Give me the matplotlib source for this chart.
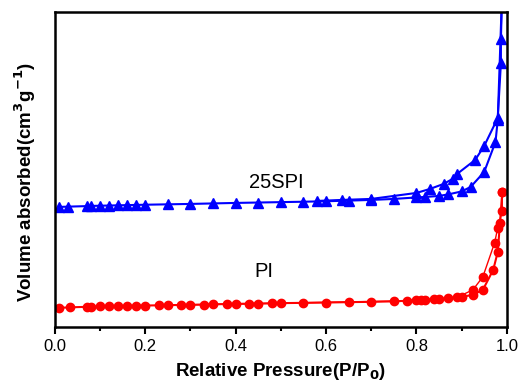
import matplotlib
matplotlib.use('Agg')
import matplotlib.pyplot as plt
from matplotlib.ticker import MultipleLocator

plt.rcParams['font.family'] = ['Liberation Sans', 'DejaVu Sans']

# 25SPI isotherm (blue), adsorption + desorption
spi_ads_x = [0.01, 0.03, 0.07, 0.08, 0.10, 0.12, 0.14, 0.16, 0.18, 0.20, 0.25, 0.30, 0.35, 0.40,
             0.45, 0.50, 0.55, 0.60, 0.65, 0.70, 0.75, 0.80, 0.82, 0.85, 0.87, 0.90, 0.92, 0.95,
             0.975, 0.98, 0.99]
spi_ads_y = [120, 120.3, 120.8, 121, 121.2, 121.4, 121.6, 121.8, 122, 122.2, 122.6, 123, 123.5, 124,
             124.4, 124.8, 125.2, 125.7, 126.3, 127, 128, 129.5, 130, 131, 132.5, 135.5, 140, 155,
             185, 207, 340]
spi_des_x = [0.99, 0.987, 0.987, 0.98, 0.95, 0.93, 0.89, 0.88, 0.86, 0.83, 0.80, 0.70, 0.635, 0.58]
spi_des_y = [340, 288, 264, 209, 181, 167, 153, 148, 143, 138, 134, 128, 127, 126]

# PI isotherm (red)
pi_ads_x = [0.01, 0.033, 0.07, 0.08, 0.10, 0.12, 0.14, 0.16, 0.18, 0.20, 0.25, 0.30, 0.35, 0.40,
            0.45, 0.50, 0.55, 0.60, 0.65, 0.70, 0.75, 0.80, 0.85, 0.90, 0.925, 0.947, 0.97, 0.98,
            0.985, 0.99]
pi_ads_y = [19, 19.5, 20, 20, 20.5, 20.5, 20.7, 21, 21, 21.3, 21.7, 22, 22.5, 23,
            23.3, 23.7, 24, 24.3, 24.7, 25, 25.5, 26.5, 27.7, 30, 32, 37, 57, 75,
            104, 135]
pi_des_x = [0.99, 0.99, 0.98, 0.973, 0.947, 0.925, 0.89, 0.87, 0.84, 0.82, 0.81, 0.78,
            0.48, 0.43, 0.38, 0.33, 0.28, 0.23]
pi_des_y = [135, 116, 99, 84, 50, 37, 29.5, 28.5, 27.5, 27, 26.7, 26,
            23.5, 23, 22.7, 22.3, 22, 21.5]

fig = plt.figure(figsize=(5.23, 3.9), dpi=100)
ax = fig.add_axes([0.105, 0.162, 0.864, 0.807])

ax.plot(spi_ads_x, spi_ads_y, color='blue', marker='^', ms=6.5, lw=1.5)
ax.plot(spi_des_x, spi_des_y, color='blue', marker='^', ms=6.5, lw=1.5)
ax.plot(pi_ads_x, pi_ads_y, color='red', marker='o', ms=6, lw=1.5)
ax.plot(pi_des_x, pi_des_y, color='red', marker='o', ms=6, lw=1.0)

ax.text(0.489, 144, '25SPI', fontsize=14.5, ha='center', va='center')
ax.text(0.462, 55, 'PI', fontsize=14.5, ha='center', va='center')

ax.set_xlim(0, 1.0)
ax.set_ylim(0, 315)
ax.xaxis.set_major_locator(MultipleLocator(0.2))
ax.xaxis.set_minor_locator(MultipleLocator(0.1))
ax.tick_params(axis='x', which='major', direction='out', length=5, width=1.5, labelsize=12)
ax.tick_params(axis='x', which='minor', direction='out', length=3, width=1.5)
ax.set_yticks([])
for s in ax.spines.values():
    s.set_linewidth(1.8)

ax.set_xlabel('Relative Pressure(P/P$_\\mathbf{0}$)', fontsize=13.5, fontweight='bold', labelpad=5)
ax.set_ylabel('Volume absorbed(cm$^\\mathbf{3}$g$^\\mathbf{-1}$)', fontsize=13.5, fontweight='bold')
ax.yaxis.set_label_coords(-0.037, 0.46)

fig.savefig('out.png', dpi=100)
